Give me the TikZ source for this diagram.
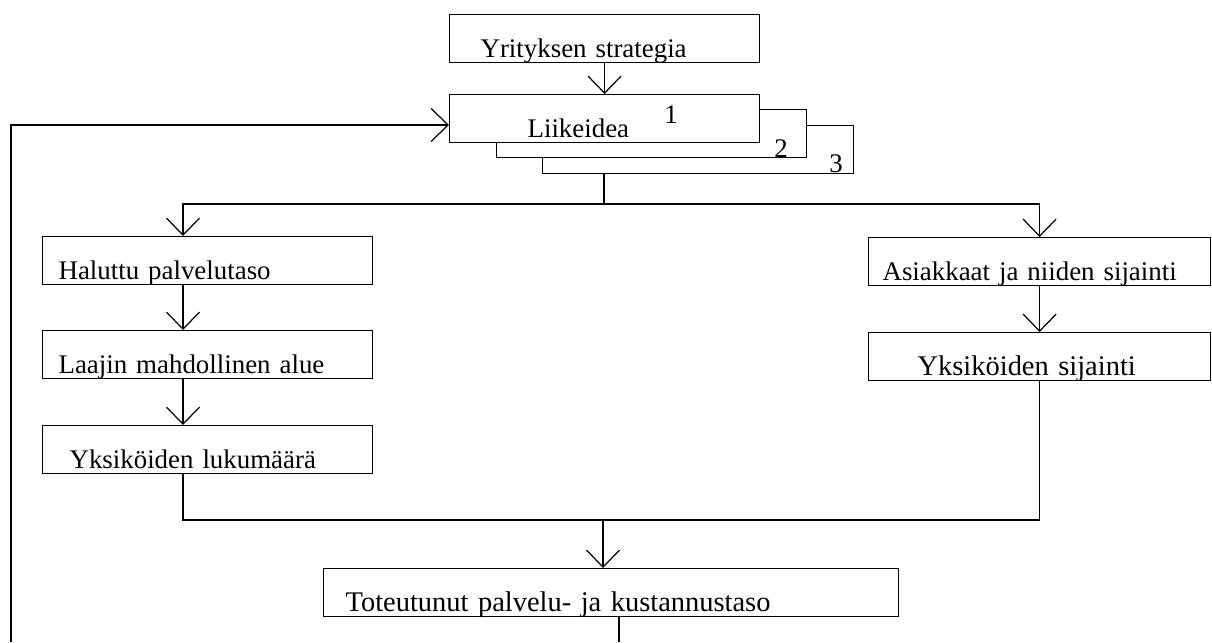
\documentclass[tikz,border=0pt]{standalone}
\usepackage{fontspec}
\setmainfont{Liberation Serif}
\usetikzlibrary{arrows.meta}

\tikzset{
  box/.style={draw, fill=white, line width=0.7pt, anchor=north west, inner sep=0pt,
    minimum height=0.96cm, text height=0.86cm, text depth=0.1cm, align=left},
  flow/.style={-{Straight Barb[length=0.34cm,width=0.66cm]}},
  sz/.style={font=\fontsize{#1}{#1}\selectfont},
}

\begin{document}
\begin{tikzpicture}[x=0.02cm, y=-0.02cm, line width=0.7pt,
    every node/.append style={sz=15.3pt}]
    \useasboundingbox (0,0) rectangle (1212,642);

    % strategy and the stacked business ideas
    \node[box, text width=6.2cm] (strat) at (449,14) {\hspace*{0.62cm}Yrityksen strategia};
    \node[box, text width=6.22cm] (idea3) at (542,125) {};
    \node[box, text width=6.2cm] (idea2) at (496,109) {};
    \node[box, text width=6.2cm] (idea1) at (449,94) {\hspace*{1.56cm}Liikeidea};
    \node (num1) at ([shift={(-1.78cm,-0.42cm)}]idea1.north east) {1};
    \node (num2) at ([shift={(-0.52cm,0.2cm)}]idea2.south east) {2};
    \node (num3) at ([shift={(-0.36cm,0.2cm)}]idea3.south east) {3};

    % left column
    \node[box, text width=6.6cm] (halu) at (42,236) {\hspace*{0.32cm}Haluttu palvelutaso};
    \node[box, text width=6.6cm] (laaj) at (42,330) {\hspace*{0.32cm}Laajin mahdollinen alue};
    \node[box, text width=6.6cm] (lkm) at (42,425) {\hspace*{0.54cm}Yksiköiden lukumäärä};

    % right column
    \node[box, text width=6.84cm] (asia) at (868,237) {\hspace*{0.28cm}Asiakkaat ja niiden sijainti};
    \node[box, sz=16.2pt, text width=6.84cm] (sij) at (868,332) {\hspace*{0.98cm}Yksiköiden sijainti};

    \node[box, sz=16.2pt, text width=11.5cm] (tot) at (323,568) {\hspace*{0.44cm}Toteutunut palvelu- ja kustannustaso};

    \coordinate (split) at (604,204);
    \coordinate (lcol) at (183,0);
    \coordinate (join) at (603,520);
    \coordinate (out) at (619,0);
    \coordinate (loopend) at (619,642);
    \coordinate (loopstart) at (11,642);
    \coordinate (fb) at (11,125);

    \draw[flow] (strat.south) -- (idea1.north);
    \draw (idea3.south -| split) -- (split);
    \draw[flow] (split) -| (halu.north -| lcol);
    \draw[flow] (split) -| (asia.north);
    \draw[flow] (halu.south -| lcol) -- (laaj.north -| lcol);
    \draw[flow] (laaj.south -| lcol) -- (lkm.north -| lcol);
    \draw[flow] (asia.south) -- (sij.north);
    \draw (lkm.south -| lcol) |- (sij.south |- join) -- (sij.south);
    \draw[flow] (join) -- (tot.north -| join);

    % feedback loop
    \draw (tot.south -| out) -- (loopend);
    \draw[flow] (loopstart) -- (fb) -- (fb -| idea1.west);
\end{tikzpicture}
\end{document}
